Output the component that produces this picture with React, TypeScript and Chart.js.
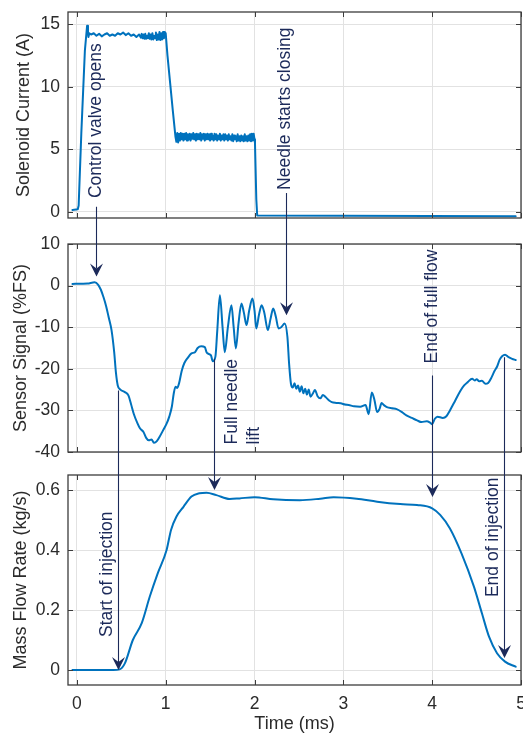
import React, { useEffect, useRef } from "react";
import { Chart, registerables } from "chart.js";

Chart.register(...registerables);

const FONT = "'Liberation Sans', Arial, Helvetica, sans-serif";
const LINE_COLOR = "#0072BD";
const NAVY = "#1c2a5a";
const TEXT_COLOR = "#2b2b2b";
const GRID_COLOR = "#e2e2e2";

// ---- axes ----
const timeTicks = [0, 1, 2, 3, 4, 5];
const timeRange = [-0.1, 5];
const currentTicks = [0, 5, 10, 15];
const sensorTicks = [-40, -30, -20, -10, 0, 10];
const flowTicks = [0, 0.2, 0.4, 0.6];
const currentRange = [-0.5, 16];
const sensorRange = [-40, 10];
const flowRange = [-0.05, 0.65];
const panelTitles = ["Solenoid Current (A)", "Sensor Signal (%FS)", "Mass Flow Rate (kg/s)"];
const xTitle = "Time (ms)";

// ---- solenoid current (A) ----
const currentT = [
  -0.05, 0.01, 0.02, 0.05, 0.09, 0.115, 0.125, 0.13, 0.14,
  0.16, 0.19, 0.22, 0.25, 0.28, 0.31, 0.34, 0.37, 0.4, 0.43, 0.46, 0.49, 0.52, 0.55, 0.58, 0.61, 0.64, 0.67, 0.7,
  0.72, 0.73, 0.74, 0.75, 0.76, 0.77, 0.78, 0.79, 0.8, 0.81, 0.82, 0.83, 0.84, 0.85, 0.86, 0.87, 0.88, 0.89,
  0.9, 0.91, 0.92, 0.93, 0.94, 0.95, 0.96, 0.97, 0.98, 0.99, 1.0,
  1.02, 1.05, 1.08, 1.11,
  1.12, 1.13, 1.14, 1.15, 1.16, 1.17, 1.18, 1.19, 1.2, 1.21, 1.22, 1.23, 1.24, 1.25, 1.26, 1.27, 1.28, 1.29,
  1.3, 1.31, 1.32, 1.33, 1.34, 1.35, 1.36, 1.37, 1.38, 1.39, 1.4, 1.41, 1.42, 1.43, 1.44, 1.45, 1.46, 1.47, 1.48, 1.49,
  1.5, 1.51, 1.52, 1.53, 1.54, 1.55, 1.56, 1.57, 1.58, 1.59, 1.6, 1.61, 1.62, 1.63, 1.64, 1.65, 1.66, 1.67, 1.68, 1.69,
  1.7, 1.71, 1.72, 1.73, 1.74, 1.75, 1.76, 1.77, 1.78, 1.79, 1.8, 1.81, 1.82, 1.83, 1.84, 1.85, 1.86, 1.87, 1.88, 1.89,
  1.9, 1.91, 1.92, 1.93, 1.94, 1.95, 1.96, 1.97, 1.98, 1.99, 2.0,
  2.005, 2.02, 2.03, 4.94,
];
const currentV = [
  0.15, 0.2, 0.5, 6.3, 12.9, 14.9, 14.4, 14.0, 14.3,
  14.2, 14.3, 14.1, 14.25, 14.05, 14.2, 14.3, 14.1, 14.2, 14.1, 14.3, 14.2, 14.35, 14.15, 14.3, 14.1, 14.2, 14.0, 14.2,
  13.95, 14.25, 13.9, 14.2, 13.85, 14.25, 13.85, 14.1, 13.9, 14.3, 13.85, 14.2, 13.8, 14.3, 13.8, 14.1, 13.9, 14.35,
  13.75, 14.2, 13.8, 14.4, 13.75, 14.3, 13.8, 14.4, 13.9, 14.4, 14.3,
  12.5, 10.3, 8.1, 6.0,
  5.6, 6.3, 5.55, 6.25, 5.7, 6.3, 5.8, 6.25, 5.7, 6.25, 5.8, 6.3, 5.7, 6.2, 5.8, 6.25, 5.7, 6.2,
  5.85, 6.3, 5.8, 6.2, 5.7, 6.25, 5.8, 6.2, 5.8, 6.3, 5.7, 6.2, 5.85, 6.25, 5.7, 6.2, 5.8, 6.25, 5.8, 6.2,
  5.7, 6.25, 5.8, 6.1, 5.7, 6.25, 5.8, 6.2, 5.7, 6.1, 5.8, 6.25, 5.7, 6.1, 5.8, 6.2, 5.7, 6.2, 5.8, 6.1,
  5.7, 6.2, 5.8, 6.05, 5.7, 6.2, 5.65, 6.1, 5.8, 6.05, 5.65, 6.2, 5.7, 6.05, 5.65, 6.1, 5.7, 6.05, 5.65, 6.2,
  5.7, 6.05, 5.65, 6.1, 5.7, 6.2, 5.65, 6.25, 5.7, 6.25, 5.8,
  5.5, 1.0, -0.3, -0.35,
];

// ---- sensor signal (%FS) ----
const sensorT = [
  -0.05, 0.05, 0.12, 0.2, 0.24, 0.27, 0.3, 0.33, 0.36, 0.39, 0.42, 0.44, 0.46, 0.49, 0.54, 0.58, 0.61, 0.64,
  0.68, 0.71, 0.75, 0.78, 0.81, 0.84, 0.87, 0.9, 0.93, 0.97, 1.01, 1.04, 1.07, 1.09, 1.11, 1.13, 1.15, 1.18,
  1.21, 1.25, 1.29, 1.33, 1.36, 1.4, 1.44, 1.46, 1.49, 1.51, 1.53, 1.56, 1.58, 1.61, 1.64, 1.665, 1.7, 1.74,
  1.765, 1.79, 1.82, 1.853, 1.88, 1.91, 1.94, 1.977, 2.0, 2.02, 2.05, 2.08, 2.11, 2.15, 2.18, 2.21, 2.24, 2.27,
  2.3, 2.34, 2.37, 2.39, 2.41, 2.43, 2.45, 2.47, 2.49, 2.51, 2.53, 2.55, 2.57, 2.59, 2.61, 2.63, 2.66, 2.68,
  2.71, 2.74, 2.77, 2.8, 2.84, 2.87, 2.92, 2.97, 3.02, 3.06, 3.12, 3.19, 3.25, 3.285, 3.32, 3.35, 3.38, 3.41,
  3.43, 3.46, 3.49, 3.55, 3.6, 3.66, 3.71, 3.77, 3.83, 3.88, 3.94, 3.98, 4.0, 4.03, 4.06, 4.12, 4.16, 4.2,
  4.26, 4.32, 4.36, 4.4, 4.45, 4.48, 4.5, 4.53, 4.56, 4.6, 4.63, 4.67, 4.7, 4.73, 4.76, 4.79, 4.82, 4.86,
  4.9, 4.94,
];
const sensorV = [
  0.4, 0.45, 0.5, 0.8, 0.2, -1.0, -2.8, -5, -7.8, -10.7, -16, -21, -24, -25, -25.6, -26.4, -28.5, -30.8,
  -33, -34.3, -35.2, -36.6, -37.2, -37.0, -37.8, -37.4, -36.4, -34.8, -33.2, -31.5, -29, -26, -24.3, -24.6, -23.5, -20.5,
  -18.6, -17.3, -16.3, -16, -15, -14.6, -14.8, -16, -16.5, -16.8, -18.2, -17, -11, -2.3, -10, -16, -10, -4.7,
  -10, -15.1, -9, -4.3, -6.5, -9.5, -6, -3.1, -6, -10.3, -7, -4.7, -6.5, -10.7, -8, -5.5, -7.5, -10.3,
  -10, -9.1, -12.3, -19, -23.6, -24.5, -23.5, -24.8, -24, -25.5, -24.2, -25.9, -24.8, -26.2, -25, -26.7, -25.8, -25.1,
  -26.6, -27.1, -26.3, -26.8, -27.6, -28, -28.2, -28.3, -28.6, -28.7, -29, -29.1, -28.7, -30.9, -25.7, -27.5, -30.4, -29.5,
  -28.2, -28.8, -29.2, -29.5, -29.7, -30.4, -31.2, -31.8, -32.4, -32.8, -32.6, -33.0, -33.3, -32, -31.5, -31.8, -31.4, -30,
  -27.6, -25.2, -24, -23.2, -22.4, -22.8, -22.5, -23, -22.9, -23.6, -23.4, -22, -20.6, -19.5, -17.8, -16.9, -16.6, -17.2,
  -17.6, -17.9,
];

// ---- mass flow rate (kg/s) ----
const flowT = [
  -0.05, 0.2, 0.41, 0.48, 0.54, 0.63, 0.73, 0.82, 0.91, 1.01, 1.06, 1.12, 1.2, 1.29, 1.38, 1.46, 1.57, 1.72,
  1.83, 2.0, 2.21, 2.51, 2.74, 2.89, 3.15, 3.38, 3.64, 3.83, 4.0, 4.09, 4.2, 4.33, 4.47, 4.56, 4.64, 4.73,
  4.82, 4.94,
];
const flowV = [
  0, 0, 0, 0.002, 0.022, 0.1, 0.156, 0.244, 0.322, 0.4, 0.467, 0.511, 0.544, 0.578, 0.589, 0.591, 0.583, 0.57,
  0.572, 0.576, 0.569, 0.566, 0.571, 0.576, 0.571, 0.561, 0.553, 0.55, 0.539, 0.517, 0.472, 0.389, 0.278, 0.189, 0.111, 0.056,
  0.028, 0.011,
];

// ---- annotations (panel index, time, value) ----
const annLabels = [
  ["Control valve opens"],
  ["Needle starts closing"],
  ["Full needle", "lift"],
  ["End of full flow"],
  ["Start of injection"],
  ["End of injection"],
];
const annTextAt = [
  [0, 0.215, 1.1],
  [0, 2.35, 1.75],
  [1, 1.745, -38.2],
  [1, 4.0, -18.7],
  [2, 0.336, 0.11],
  [2, 4.69, 0.243],
];
const annLineT = [0.21, 2.35, 1.54, 4.0, 0.46, 4.81];
const annFrom = [
  [0, 0.4],
  [0, 1.5],
  [1, -17.6],
  [1, -21.6],
  [1, -25.2],
  [1, -17.2],
];
const annTo = [
  [1, 2.2],
  [1, -7.1],
  [2, 0.6],
  [2, 0.577],
  [2, 0.0],
  [2, 0.04],
];

const W = 523;
const H = 733;
const canvasTops = [0, 232, 463];
const canvasHeights = [230, 232, 270];

const boxPlugin = {
  id: "matlabBox",
  afterDraw(chart: any) {
    const { ctx, chartArea: a, scales } = chart;
    const x = scales.x;
    const y = scales.y;
    ctx.save();
    ctx.strokeStyle = "#3c3c3c";
    ctx.lineWidth = 1.3;
    ctx.strokeRect(a.left, a.top, a.right - a.left, a.bottom - a.top);
    ctx.lineWidth = 1;
    ctx.beginPath();
    x.ticks.forEach((tk: any) => {
      const px = Math.round(x.getPixelForValue(tk.value)) + 0.5;
      if (px < a.left - 1 || px > a.right + 1) return;
      ctx.moveTo(px, a.top);
      ctx.lineTo(px, a.top + 5);
      ctx.moveTo(px, a.bottom);
      ctx.lineTo(px, a.bottom - 5);
    });
    y.ticks.forEach((tk: any) => {
      const py = Math.round(y.getPixelForValue(tk.value)) + 0.5;
      ctx.moveTo(a.left, py);
      ctx.lineTo(a.left + 5, py);
      ctx.moveTo(a.right, py);
      ctx.lineTo(a.right - 5, py);
    });
    ctx.stroke();
    ctx.restore();
  },
};

function makeConfig(
  idx: number,
  t: number[],
  v: number[],
  yTicks: number[],
  yRange: number[],
  showX: boolean,
  smooth: boolean
): any {
  const tickFont = { family: FONT, size: 17.5 };
  const titlePad = [13, 10, 10][idx];
  return {
    type: "line",
    data: {
      datasets: [
        {
          data: t.map((x, i) => ({ x, y: v[i] })),
          borderColor: LINE_COLOR,
          borderWidth: 2,
          borderJoinStyle: "round",
          borderCapStyle: "round",
          pointRadius: 0,
          fill: false,
          tension: 0,
          cubicInterpolationMode: smooth ? "monotone" : "default",
        },
      ],
    },
    options: {
      responsive: false,
      animation: false,
      events: [],
      layout: { padding: { top: 12, right: 2, bottom: showX ? 0 : 12, left: 0 } },
      plugins: { legend: { display: false }, tooltip: { enabled: false } },
      scales: {
        x: {
          type: "linear",
          min: timeRange[0],
          max: timeRange[1],
          afterBuildTicks: (s: any) => {
            s.ticks = timeTicks.map((value) => ({ value }));
          },
          afterFit: (s: any) => {
            s.height = showX ? 48 : 0;
            s.paddingLeft = 0;
            s.paddingRight = 0;
          },
          grid: { color: GRID_COLOR, drawTicks: false, lineWidth: 1 },
          border: { display: false },
          ticks: {
            display: showX,
            padding: 9,
            font: tickFont,
            color: TEXT_COLOR,
            maxRotation: 0,
            autoSkip: false,
            callback: (val: any) => String(val),
          },
          title: {
            display: showX,
            text: xTitle,
            color: TEXT_COLOR,
            font: { family: FONT, size: 18, lineHeight: 1 },
            padding: { top: 0, bottom: 0 },
          },
        },
        y: {
          type: "linear",
          min: yRange[0],
          max: yRange[1],
          afterBuildTicks: (s: any) => {
            s.ticks = yTicks.map((value) => ({ value }));
          },
          afterFit: (s: any) => {
            s.width = 68;
            s.paddingTop = 0;
            s.paddingBottom = 0;
          },
          grid: { color: GRID_COLOR, drawTicks: false, lineWidth: 1 },
          border: { display: false },
          ticks: {
            padding: 8,
            font: tickFont,
            color: TEXT_COLOR,
            autoSkip: false,
            callback: (val: any) => String(val),
          },
          title: {
            display: true,
            text: panelTitles[idx],
            color: TEXT_COLOR,
            font: { family: FONT, size: 18, lineHeight: 1.2 },
            padding: { top: titlePad, bottom: 0 },
          },
        },
      },
    },
    plugins: [boxPlugin],
  };
}

export default function App() {
  const c0 = useRef<HTMLCanvasElement | null>(null);
  const c1 = useRef<HTMLCanvasElement | null>(null);
  const c2 = useRef<HTMLCanvasElement | null>(null);
  const ov = useRef<HTMLCanvasElement | null>(null);

  useEffect(() => {
    const charts = [
      new Chart(c0.current as any, makeConfig(0, currentT, currentV, currentTicks, currentRange, false, false)),
      new Chart(c1.current as any, makeConfig(1, sensorT, sensorV, sensorTicks, sensorRange, false, true)),
      new Chart(c2.current as any, makeConfig(2, flowT, flowV, flowTicks, flowRange, true, true)),
    ];

    const canvas = ov.current as HTMLCanvasElement;
    const ctx = canvas.getContext("2d") as CanvasRenderingContext2D;
    ctx.clearRect(0, 0, W, H);
    const px = (p: number, t: number) => (charts[p].scales as any).x.getPixelForValue(t);
    const py = (p: number, v: number) => (charts[p].scales as any).y.getPixelForValue(v) + canvasTops[p];

    ctx.save();
    ctx.strokeStyle = NAVY;
    ctx.fillStyle = NAVY;
    ctx.lineWidth = 1.1;
    annLineT.forEach((t, i) => {
      const [fp, fv] = annFrom[i];
      const [tp, tv] = annTo[i];
      const x = Math.round(px(tp, t)) + 0.5;
      const y1 = py(fp, fv);
      const y2 = py(tp, tv);
      ctx.beginPath();
      ctx.moveTo(x, y1);
      ctx.lineTo(x, y2 - 8);
      ctx.stroke();
      ctx.beginPath();
      ctx.moveTo(x, y2);
      ctx.lineTo(x - 6.5, y2 - 13);
      ctx.lineTo(x, y2 - 8);
      ctx.lineTo(x + 6.5, y2 - 13);
      ctx.closePath();
      ctx.fill();
    });

    ctx.font = `17.5px ${FONT}`;
    ctx.textAlign = "left";
    ctx.textBaseline = "middle";
    annLabels.forEach((lines, i) => {
      const [p, t, v] = annTextAt[i];
      const x = px(p, t);
      const y = py(p, v);
      ctx.save();
      ctx.translate(x, y);
      ctx.rotate(-Math.PI / 2);
      lines.forEach((ln, j) => {
        ctx.fillText(ln, 0, j * 22);
      });
      ctx.restore();
    });
    ctx.restore();

    return () => {
      charts.forEach((c) => c.destroy());
    };
  }, []);

  const canvasStyle = (i: number): React.CSSProperties => ({
    position: "absolute",
    left: 0,
    top: canvasTops[i],
    width: W,
    height: canvasHeights[i],
  });

  return (
    <div style={{ position: "fixed", left: 0, top: 0, width: W, height: H, background: "#ffffff" }}>
      <canvas ref={c0} width={W} height={canvasHeights[0]} style={canvasStyle(0)} />
      <canvas ref={c1} width={W} height={canvasHeights[1]} style={canvasStyle(1)} />
      <canvas ref={c2} width={W} height={canvasHeights[2]} style={canvasStyle(2)} />
      <canvas
        ref={ov}
        width={W}
        height={H}
        style={{ position: "absolute", left: 0, top: 0, width: W, height: H, pointerEvents: "none" }}
      />
    </div>
  );
}
